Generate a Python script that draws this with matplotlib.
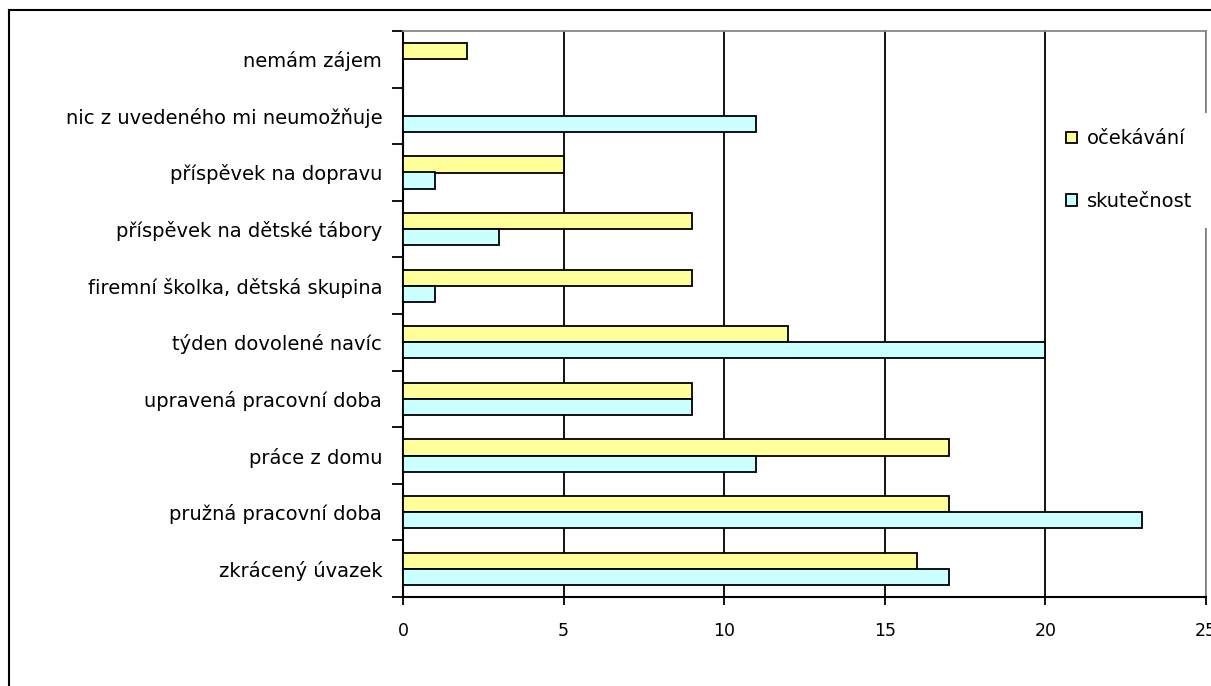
import matplotlib
matplotlib.use("Agg")
import matplotlib.pyplot as plt
from matplotlib.lines import Line2D
import numpy as np

plt.rcParams['font.family'] = ['DejaVu Sans']

categories = [
    "zkrácený úvazek",
    "pružná pracovní doba",
    "práce z domu",
    "upravená pracovní doba",
    "týden dovolené navíc",
    "firemní školka, dětská skupina",
    "příspěvek na dětské tábory",
    "příspěvek na dopravu",
    "nic z uvedeného mi neumožňuje",
    "nemám zájem",
]
ocekavani = [16, 17, 17, 9, 12, 9, 9, 5, 0, 2]
skutecnost = [17, 23, 11, 9, 20, 1, 3, 1, 11, 0]
x_ticks = [0, 5, 10, 15, 20, 25]

FS = 14
FS_TICK = 12.5
W, H = 1211, 686
fig = plt.figure(figsize=(W / 100, H / 100), dpi=100)
ax = fig.add_axes([403 / W, 1 - 597 / H, (1206 - 403) / W, (597 - 31) / H])

y = np.arange(len(categories))
bh = 0.283
ax.barh(y + bh / 2, ocekavani, height=bh, color="#FFFF99", edgecolor="black",
        linewidth=1.3, label="očekávání", zorder=3)
ax.barh(y - bh / 2, skutecnost, height=bh, color="#CCFFFF", edgecolor="black",
        linewidth=1.3, label="skutečnost", zorder=3)

ax.set_xlim(0, 25)
ax.set_ylim(-0.5, len(categories) - 0.5)
ax.set_xticks(x_ticks)
ax.set_xticklabels([str(t) for t in x_ticks], fontsize=FS_TICK)
ax.xaxis.grid(True, color="black", linewidth=1.3, zorder=0)
ax.set_axisbelow(True)

# category labels centered, ticks at category boundaries
ax.set_yticks(y)
ax.set_yticklabels(categories, fontsize=FS)
ax.tick_params(axis='y', length=0, pad=15)
ax.set_yticks(np.arange(-0.5, len(categories)), minor=True)
ax.tick_params(axis='y', which='minor', length=8, width=1.3, direction='out')
ax.tick_params(axis='x', length=6, width=1.3, direction='out', pad=12)

for s in ("left", "bottom"):
    ax.spines[s].set_color("black")
    ax.spines[s].set_linewidth(1.5)
for s in ("top", "right"):
    ax.spines[s].set_color("#888888")
    ax.spines[s].set_linewidth(1.3)

leg = ax.legend(loc="upper left", bbox_to_anchor=(1040 / W, 1 - 103 / H),
                bbox_transform=fig.transFigure, fontsize=FS, frameon=True,
                facecolor="white", edgecolor="none", framealpha=1,
                handlelength=0.55, handleheight=0.55, handletextpad=0.5,
                labelspacing=2.25, borderpad=0.85, fancybox=False)
leg.set_zorder(5)
for p in leg.get_patches():
    p.set_linewidth(1.3)

# outer chart frame
fig.add_artist(Line2D([8.5 / W, 1.0], [1 - 10 / H, 1 - 10 / H],
                      transform=fig.transFigure, color="black", linewidth=1.5))
fig.add_artist(Line2D([8.5 / W, 8.5 / W], [0.0, 1 - 10 / H],
                      transform=fig.transFigure, color="black", linewidth=1.5))

fig.savefig("out.png", dpi=100)
